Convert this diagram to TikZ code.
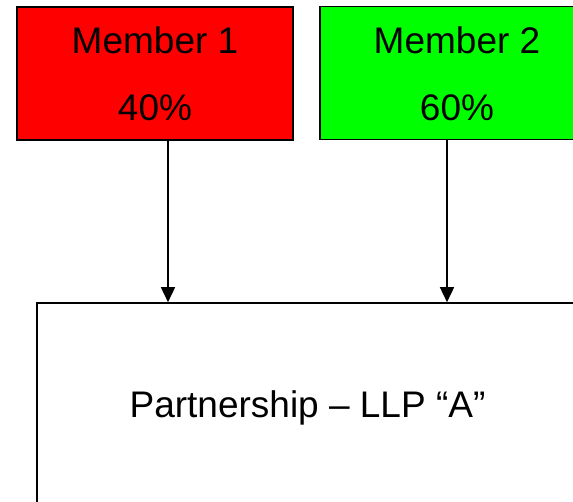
\documentclass[tikz,border=0pt]{standalone}
\usepackage{fontspec}
\setmainfont{Liberation Sans}
\usetikzlibrary{arrows.meta}
\begin{document}
\begin{tikzpicture}[x=1pt,y=-1pt,
  box/.style={draw=black,line width=1.6pt,rectangle,inner sep=0pt},
  lbl/.style={anchor=base,inner sep=0pt,font=\fontsize{37}{40}\selectfont},
  arr/.style={line width=1.6pt,-{Triangle[length=15pt,width=14pt]}}]
\clip (0,0) rectangle (573,501);
\fill[white] (0,0) rectangle (573,501);
\node[box,fill={rgb,255:red,255;green,0;blue,0},minimum width=276pt,minimum height=133pt] (m1) at (155,73.5) {};
\node[box,fill={rgb,255:red,0;green,255;blue,0},minimum width=274pt,minimum height=133pt] (m2) at (457,73) {};
\node[box,fill=white,minimum width=541pt,minimum height=206pt] (llp) at (307.5,406) {};
\node[lbl] (m1a) at (155,53) {Member 1};
\node[lbl] (m1b) at (155,120) {40\%};
\node[lbl] (m2a) at (457,53) {Member 2};
\node[lbl] (m2b) at (457,120) {60\%};
\node[lbl] (llpt) at (307.5,417) {Partnership – LLP “A”};
\draw[arr] ([xshift=13pt]m1.south) -- ([xshift=13pt]m1.south |- llp.north);
\draw[arr] ([xshift=-10pt]m2.south) -- ([xshift=-10pt]m2.south |- llp.north);
\end{tikzpicture}
\end{document}
